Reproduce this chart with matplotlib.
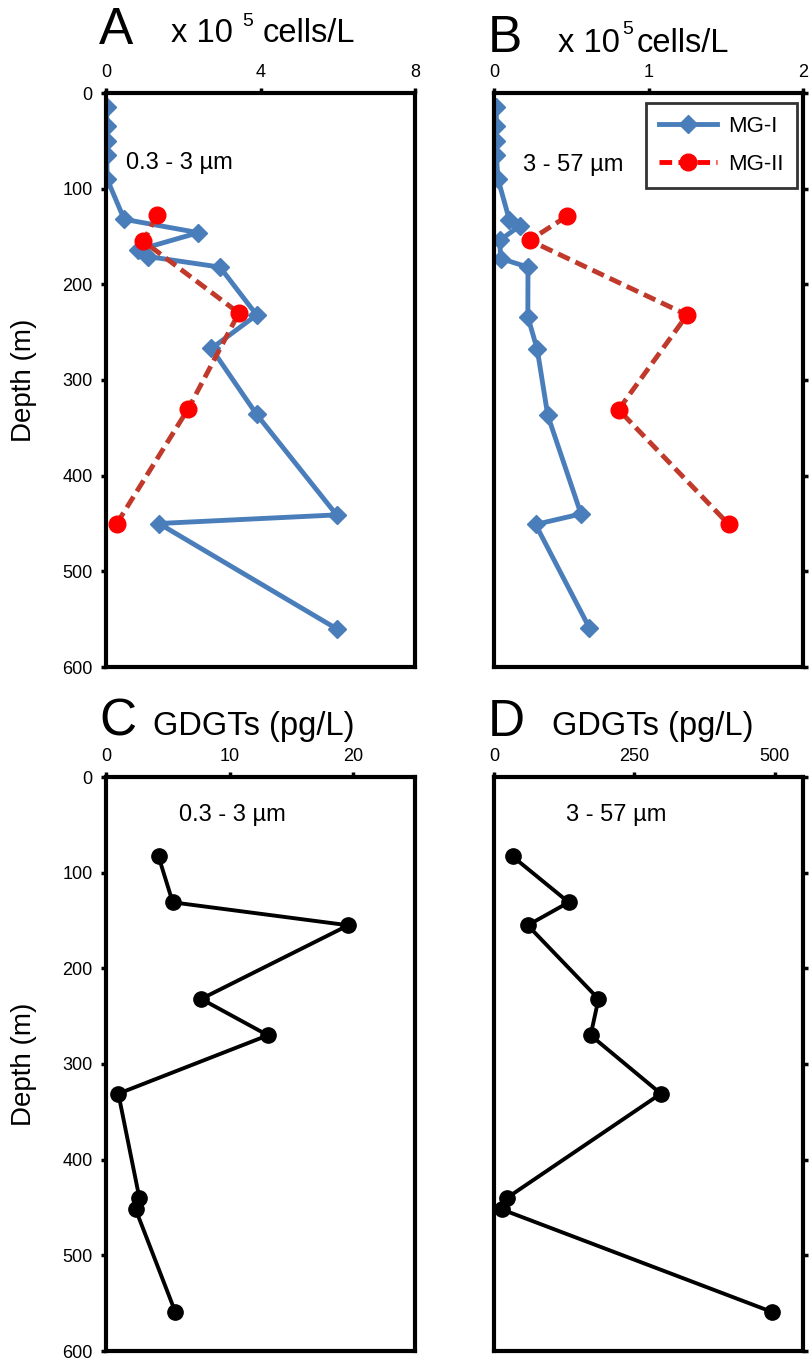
import matplotlib
matplotlib.use('Agg')
import matplotlib.pyplot as plt
from matplotlib.lines import Line2D

plt.rcParams['font.family'] = ['Liberation Sans', 'DejaVu Sans']

# depths (m) and abundances
depth_a_mg1 = [15, 35, 50, 65, 90, 132, 146, 164, 171, 182, 232, 267, 336, 441, 450, 560]
cells_a_mg1 = [0.02, 0.02, 0.02, 0.02, 0.03, 0.47, 2.39, 0.84, 1.10, 2.95, 3.90, 2.73, 3.90, 5.97, 1.37, 5.97]
depth_a_mg2 = [128, 155, 230, 330, 450]
cells_a_mg2 = [1.31, 0.97, 3.44, 2.13, 0.28]

depth_b_mg1 = [15, 35, 50, 65, 90, 133, 139, 154, 173, 182, 234, 268, 337, 440, 451, 559]
cells_b_mg1 = [0.015, 0.015, 0.015, 0.015, 0.026, 0.10, 0.166, 0.037, 0.043, 0.22, 0.219, 0.28, 0.348, 0.563, 0.269, 0.617]
depth_b_mg2 = [129, 154, 232, 331, 451]
cells_b_mg2 = [0.47, 0.23, 1.25, 0.806, 1.52]

depth_gdgt = [83, 131, 155, 232, 270, 331, 440, 452, 559]
gdgt_small = [4.25, 5.4, 19.6, 7.7, 13.1, 1.0, 2.7, 2.4, 5.6]
gdgt_large = [33, 133, 60, 186, 172, 297, 23, 14, 494]

BLUE = '#4a7ebb'
DARKRED = '#c0392b'
DASH = (0, (2.6, 1.3))

fig = plt.figure(figsize=(8.1, 13.64), dpi=100)


def px_axes(l, t, r, b):
    return fig.add_axes([l / 810, 1 - b / 1364, (r - l) / 810, (b - t) / 1364])


def style(ax, xmax, xticks, right=False):
    ax.set_xlim(0, xmax)
    ax.set_ylim(600, 0)
    ax.set_xticks(xticks)
    ax.set_yticks(range(0, 601, 100))
    for s in ax.spines.values():
        s.set_linewidth(3)
    ax.xaxis.tick_top()
    ax.tick_params(axis='x', direction='out', length=3.5, width=2.5,
                   labelsize=13, pad=5)
    if right:
        ax.yaxis.tick_right()
        ax.tick_params(axis='y', direction='out', length=3.5, width=2.5,
                       labelright=False)
    else:
        ax.tick_params(axis='y', direction='out', length=3.5, width=2.5,
                       labelsize=13, pad=6)
        ax.set_ylabel('Depth (m)', fontsize=20, labelpad=18)


def title(letter, lx, ly, label, tx, ty, sup=None):
    fig.text(lx / 810, 1 - ly / 1364, letter, fontsize=37, va='center', ha='left')
    if sup is None:
        fig.text(tx / 810, 1 - ty / 1364, label, fontsize=23.5, va='center', ha='left')
    else:
        fig.text(tx / 810, 1 - ty / 1364, 'x 10', fontsize=23.5, va='center', ha='left')
        fig.text(sup[0] / 810, 1 - sup[1] / 1364, '5', fontsize=14, va='center', ha='left')
        fig.text(sup[2] / 810, 1 - ty / 1364, 'cells/L', fontsize=23.5, va='center', ha='left')


def profile(ax, d1, c1, d2, c2):
    ax.plot(c1, d1, color=BLUE, lw=3.5, marker='D', ms=9, mec=BLUE, zorder=2)
    ax.plot(c2, d2, color=DARKRED, lw=3.5, ls=DASH,
            marker='o', ms=12, mfc='red', mec='red', zorder=3)


# panel A
ax_a = px_axes(106, 93, 415, 667)
style(ax_a, 8, [0, 4, 8])
profile(ax_a, depth_a_mg1, cells_a_mg1, depth_a_mg2, cells_a_mg2)
ax_a.text(0.52, 73, '0.3 - 3 µm', fontsize=17, va='center', ha='left')
title('A', 99, 31, None, 171, 33, sup=(242, 22, 263))

# panel B
ax_b = px_axes(494, 93, 803, 667)
style(ax_b, 2, [0, 1, 2], right=True)
profile(ax_b, depth_b_mg1, cells_b_mg1, depth_b_mg2, cells_b_mg2)
ax_b.text(0.19, 75, '3 - 57 µm', fontsize=17, va='center', ha='left')
handles = [Line2D([], [], color=BLUE, lw=3.5, marker='D', ms=9, mec=BLUE, label='MG-I'),
           Line2D([], [], color='red', lw=3.5, ls=DASH, marker='o', ms=12,
                  mfc='red', mec='red', label='MG-II')]
leg = ax_b.legend(handles=handles, loc='upper right', bbox_to_anchor=(0.98, 0.983),
                  borderaxespad=0, fontsize=16, frameon=True, fancybox=False,
                  handlelength=2.6, borderpad=0.6, labelspacing=0.75, handletextpad=0.5)
leg.get_frame().set_edgecolor('black')
leg.get_frame().set_linewidth(2)
title('B', 488, 38, None, 558, 43, sup=(622, 30, 637))

# panel C
ax_c = px_axes(106, 777, 415, 1351)
style(ax_c, 25, [0, 10, 20])
ax_c.plot(gdgt_small, depth_gdgt, color='black', lw=2.8, marker='o', ms=11)
ax_c.text(5.9, 40, '0.3 - 3 µm', fontsize=17, va='center', ha='left')
title('C', 99, 722, 'GDGTs (pg/L)', 153, 726)

# panel D
ax_d = px_axes(494, 777, 803, 1351)
style(ax_d, 550, [0, 250, 500], right=True)
ax_d.plot(gdgt_large, depth_gdgt, color='black', lw=2.8, marker='o', ms=11)
ax_d.text(129, 40, '3 - 57 µm', fontsize=17, va='center', ha='left')
title('D', 488, 723, 'GDGTs (pg/L)', 552, 726)

fig.savefig('out.png', dpi=100)
